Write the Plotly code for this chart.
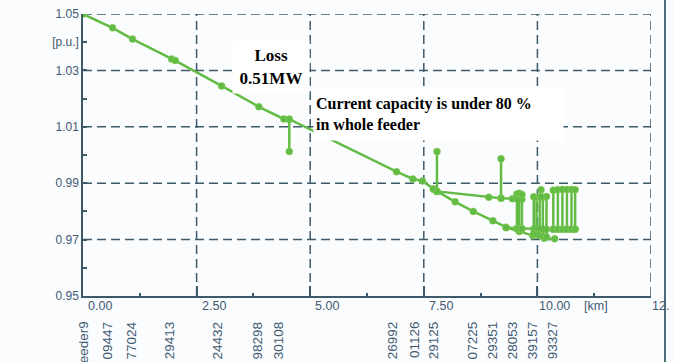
import plotly.graph_objects as go

# ---- feeder voltage profile data (distance in km, voltage in p.u.) ----
trunk_km = [0.00, 0.65, 1.09, 1.95, 2.03, 3.05, 3.87, 4.42, 4.54, 6.90, 7.26, 7.47, 7.71, 7.79]
trunk_pu = [1.0500, 1.0451, 1.0411, 1.0340, 1.0335, 1.0245, 1.0171, 1.0128, 1.0127,
            0.9941, 0.9915, 0.9908, 0.9879, 0.9871]

upper_km = [7.79, 8.93, 9.20, 9.45, 9.55, 9.66]
upper_pu = [0.9871, 0.9850, 0.9847, 0.9845, 0.9844, 0.9843]

lower_km = [7.71, 8.19, 8.59, 9.02, 9.31, 9.60, 9.90, 10.15, 10.38]
lower_pu = [0.9879, 0.9834, 0.9800, 0.9767, 0.9744, 0.9729, 0.9714, 0.9705, 0.9703]

lateral_km = [9.31, 9.55, 9.60, 9.66, 9.92, 9.98, 10.05, 10.12, 10.20,
              10.35, 10.45, 10.55, 10.65, 10.75, 10.83]
lateral_pu = [0.9742, 0.9740, 0.9739, 0.9739, 0.9738, 0.9738, 0.9738, 0.9737, 0.9737,
              0.9737, 0.9737, 0.9737, 0.9737, 0.9737, 0.9737]

# laterals hanging off the buses: position, end voltage, start voltage
stem_km = [9.55, 9.60, 9.66, 9.92, 9.98, 10.05, 10.12, 10.20,
           10.35, 10.45, 10.55, 10.65, 10.75, 10.83]
stem_top = [0.9862, 0.9864, 0.9860, 0.9852, 0.9850, 0.9852, 0.9850, 0.9853,
            0.9875, 0.9877, 0.9878, 0.9878, 0.9878, 0.9877]
stem_bot = [0.9738, 0.9738, 0.9738, 0.9722, 0.9718, 0.9714, 0.9712, 0.9709,
            0.9737, 0.9737, 0.9737, 0.9737, 0.9737, 0.9737]

# short spur feeders rising above their bus voltage
spur_km = [4.54, 7.79, 9.20, 10.08]
spur_base = [1.0127, 0.9871, 0.9847, 0.9851]
spur_tip = [1.0012, 1.0012, 0.9987, 0.9877]

# node names printed under the distance axis
node_km = [0.00, 0.53, 1.06, 1.91, 2.95, 3.83, 4.31, 6.82, 7.31, 7.72, 8.56, 9.00, 9.44, 9.88, 10.32]
node_names = ["Feeder9", "09447", "77024", "29413", "24432", "98298", "30108",
              "26992", "01126", "29125", "07225", "29351", "28053", "39157", "93327"]

x_tick_km = [0.0, 2.5, 5.0, 7.5, 10.0]
x_tick_text = ["0.00", "2.50", "5.00", "7.50", "10.00"]
x_minor_km = [1.25, 3.75, 6.25, 8.75, 11.25]
y_tick_pu = [0.95, 0.97, 0.99, 1.01, 1.03, 1.04, 1.05]
y_tick_text = ["0.95", "0.97", "0.99", "1.01", "1.03", "[p.u.]", "1.05"]
y_minor_pu = [0.96, 0.98, 1.00, 1.02]
x_grid_km = [2.5, 5.0, 7.5, 10.0, 12.5]
y_grid_pu = [0.97, 0.99, 1.01, 1.03, 1.05]

GREEN = "#62bb44"
AXIS = "#3d5a6b"
TXT = "#3f5a70"


def segments(xs, y0s, y1s):
    """Join vertical segments into a single gapped polyline."""
    sx, sy = [], []
    for x, a, b in zip(xs, y0s, y1s):
        sx += [x, x, None]
        sy += [a, b, None]
    return sx, sy


fig = go.Figure()
line_style = dict(color=GREEN, width=2.5)
marker_style = dict(color=GREEN, size=7, line=dict(color="#8fd060", width=0.5))

for xs, ys in [(trunk_km, trunk_pu), (upper_km, upper_pu),
               (lower_km, lower_pu), (lateral_km, lateral_pu)]:
    fig.add_trace(go.Scatter(x=xs, y=ys, mode="lines+markers",
                             line=line_style, marker=marker_style,
                             showlegend=False, hoverinfo="skip"))

sx, sy = segments(stem_km, stem_bot, stem_top)
fig.add_trace(go.Scatter(x=sx, y=sy, mode="lines+markers", line=line_style,
                         marker=marker_style, showlegend=False, hoverinfo="skip"))
sx, sy = segments(spur_km, spur_base, spur_tip)
fig.add_trace(go.Scatter(x=sx, y=sy, mode="lines+markers", line=line_style,
                         marker=marker_style, showlegend=False, hoverinfo="skip"))

shapes = []
for gx in x_grid_km:
    shapes.append(dict(type="line", xref="x", yref="y", x0=gx, x1=gx, y0=0.95, y1=1.05,
                       line=dict(color=AXIS, width=1.5, dash="9px,5px"), layer="below"))
for gy in y_grid_pu:
    shapes.append(dict(type="line", xref="x", yref="y", x0=0, x1=12.5, y0=gy, y1=gy,
                       line=dict(color=AXIS, width=1.5, dash="9px,5px"), layer="below"))
# window frame edge on the right
shapes.append(dict(type="line", xref="paper", yref="paper", x0=1.0246, x1=1.0246,
                   y0=-0.24, y1=1.06, line=dict(color="#4b6b7a", width=2)))

annotations = []
for k, t in zip(x_tick_km, x_tick_text):
    annotations.append(dict(x=k, y=-0.034, xref="x", yref="paper", text=t,
                            showarrow=False, xanchor="center", yanchor="middle", xshift=17,
                            font=dict(family="Liberation Sans, Arial", size=12.5, color=TXT)))
annotations.append(dict(x=11.3, y=-0.034, xref="x", yref="paper", text="[km]",
                        showarrow=False, xanchor="center", yanchor="middle",
                        font=dict(family="Liberation Sans, Arial", size=12.5, color=TXT)))
annotations.append(dict(x=12.5, y=-0.034, xref="x", yref="paper", text="12.",
                        showarrow=False, xanchor="left", yanchor="middle", xshift=-1,
                        font=dict(family="Liberation Sans, Arial", size=12.5, color=TXT)))
for k, name in zip(node_km, node_names):
    annotations.append(dict(x=k, y=-0.083, xref="x", yref="paper", text=name,
                            textangle=-90, showarrow=False, xanchor="center", yanchor="top",
                            font=dict(family="Liberation Sans, Arial", size=13.5, color=TXT)))

annotations.append(dict(x=4.14, y=1.0312, xref="x", yref="y", text="<b>Loss<br>0.51MW</b>",
                        showarrow=False, align="center", bgcolor="white",
                        width=76, height=52, borderpad=0,
                        font=dict(family="Liberation Serif, Times New Roman", size=17,
                                  color="black")))
annotations.append(dict(x=7.82, y=1.0147, xref="x", yref="y",
                        text="<b>Current capacity is under 80 %<br>in whole feeder</b>",
                        showarrow=False, align="left", bgcolor="white",
                        width=245, height=48, borderpad=2,
                        font=dict(family="Liberation Serif, Times New Roman", size=16,
                                  color="black")))

fig.update_layout(
    width=674, height=362,
    margin=dict(l=83, r=23, t=14, b=66, autoexpand=False),
    paper_bgcolor="#fbfcfe", plot_bgcolor="#fbfcfe",
    shapes=shapes, annotations=annotations,
    xaxis=dict(range=[0, 12.5], showgrid=False, zeroline=False,
               showline=True, linecolor=AXIS, linewidth=1.5,
               tickmode="array", tickvals=x_tick_km + [12.5], showticklabels=False,
               ticks="inside", ticklen=10, tickcolor=AXIS, tickwidth=1.5,
               minor=dict(tickvals=x_minor_km, ticks="inside", ticklen=3,
                          tickcolor=AXIS, tickwidth=1.5, showgrid=False)),
    yaxis=dict(range=[0.95, 1.05], showgrid=False, zeroline=False,
               showline=True, linecolor=AXIS, linewidth=1.5,
               tickmode="array", tickvals=y_tick_pu, ticktext=y_tick_text,
               ticks="inside", ticklen=4, tickcolor=AXIS, tickwidth=1.5,
               tickfont=dict(family="Liberation Sans, Arial", size=12, color=TXT),
               minor=dict(tickvals=y_minor_pu, ticks="inside", ticklen=4,
                          tickcolor=AXIS, tickwidth=1.5, showgrid=False)),
)

fig.write_html("out.html")
